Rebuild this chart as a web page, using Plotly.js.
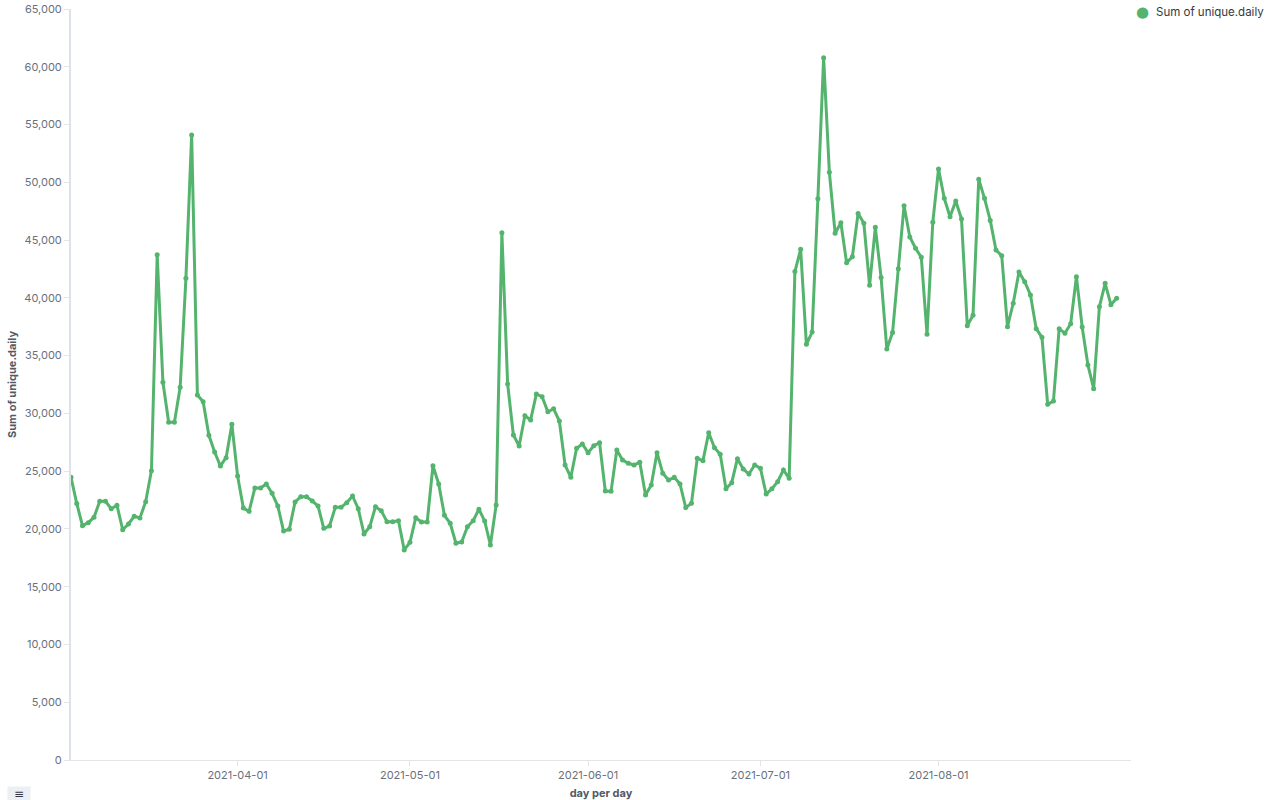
<!DOCTYPE html>
<html><head><meta charset="utf-8">
<script src="https://cdn.plot.ly/plotly-3.0.1.min.js"></script>
<style>html,body{margin:0;padding:0;background:#fff}#chart{width:1280px;height:800px}</style>
</head><body><div id="chart"></div>
<script>
const startDate = '2021-03-03';
const seriesName = 'Sum of unique.daily';
const uniqueDaily = [
24470,22200,20280,20540,21000,22390,22390,21750,22040,19930,
20430,21090,20950,22360,25040,43730,32690,29230,29230,32260,
41690,54090,31590,31010,28100,26660,25450,26170,29060,24580,
21810,21520,23540,23540,23890,23080,21980,19820,19970,22330,
22790,22790,22420,21980,20050,20250,21870,21870,22270,22850,
21750,19560,20190,21920,21580,20630,20630,20710,18180,18840,
20970,20600,20600,25470,23890,21180,20490,18760,18870,20190,
20710,21700,20690,18610,22070,45640,32540,28130,27180,29800,
29430,31680,31440,30140,30400,29340,25530,24470,26980,27350,
26600,27200,27460,23280,23250,26830,25970,25680,25530,25770,
22940,23800,26600,24810,24230,24470,23890,21840,22220,26110,
25910,28330,27030,26460,23480,24000,26080,25190,24750,25530,
25250,23020,23480,24090,25100,24380,42270,44200,35980,37040,
48580,60780,50860,45590,46500,43040,43560,47310,46450,41080,
46100,41770,35570,37010,42520,47980,45270,44290,43510,36840,
46540,51150,48610,47020,48380,46820,37590,38490,50260,48610,
46700,44140,43650,37500,39530,42240,41400,40250,37330,36580,
30790,31070,37330,36930,37760,41830,37480,34190,32140,39230,
41260,39410,39960
];
const xTickVals = ['2021-04-01','2021-05-01','2021-06-01','2021-07-01','2021-08-01'];

const dates = uniqueDaily.map((v,i)=>{
  const d = new Date(startDate+'T00:00:00Z');
  d.setUTCDate(d.getUTCDate()+i);
  return d.toISOString().slice(0,10);
});
const green = '#54b46e';
const fam = 'Inter, "Open Sans", sans-serif';
const trace = {
  x: dates, y: uniqueDaily, type:'scatter', mode:'lines+markers', name: seriesName,
  line:{color:green, width:3}, marker:{color:green, size:5}, showlegend:false,
  hovertemplate:'%{x}<br>%{y:,}<extra></extra>'
};
const tickFont = {family:fam, size:11, color:'#69707d'};
const layout = {
  width:1280, height:800,
  margin:{l:71, r:149, t:9, b:40},
  paper_bgcolor:'#fff', plot_bgcolor:'#fff',
  font:{family:fam},
  xaxis:{
    type:'date', range:['2021-03-03','2021-09-03 12:00'],
    tickvals:xTickVals, ticktext:xTickVals,
    showgrid:false, zeroline:false, showline:true, linecolor:'#e3e4e8', linewidth:1,
    ticks:'outside', ticklen:5, tickcolor:'#e3e4e8', tickfont:tickFont,
    title:{text:'day per day', font:{family:fam, size:11, color:'#535966', weight:'bold'}, standoff:8}
  },
  yaxis:{
    range:[0,65000], dtick:5000, tickformat:',d',
    showgrid:false, zeroline:false, showline:true, linecolor:'#dde1e8', linewidth:2,
    ticks:'outside', ticklen:5, tickcolor:'#e3e4e8', tickfont:tickFont,
    title:{text:'Sum of unique.daily', font:{family:fam, size:11, color:'#535966', weight:'bold'}, standoff:5}
  },
  annotations:[
    {xref:'paper', yref:'paper', x:1.0113, y:0.9965, xanchor:'center', yanchor:'middle', showarrow:false,
     text:'●', font:{size:15, color:green, family:'DejaVu Sans'}},
    {xref:'paper', yref:'paper', x:1.0215, y:0.9965, xanchor:'left', yanchor:'middle', showarrow:false,
     text:seriesName, font:{family:fam, size:11.5, color:'#343741'}},
    {xref:'paper', yref:'paper', x:-0.049, y:-0.0446, xanchor:'center', yanchor:'middle', showarrow:false,
     text:'≡', width:20, height:11, align:'center', valign:'middle',
     font:{size:12, color:'#343741', family:'DejaVu Sans'}, bgcolor:'#eceff4', borderpad:1}
  ]
};
Plotly.newPlot('chart',[trace],layout,{displayModeBar:false});
</script></body></html>
